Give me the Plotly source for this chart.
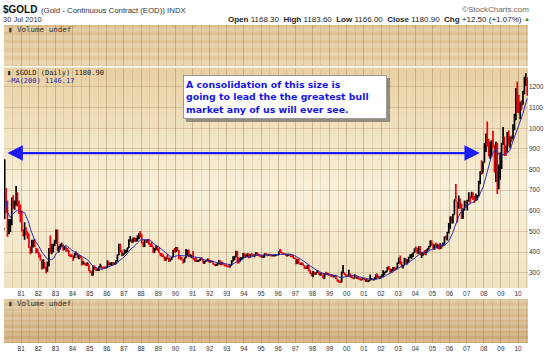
import plotly.graph_objects as go
import pandas as pd

# ---------------- data (monthly bars) ----------------
prev_close_1979 = 512

high = [
    850, 710, 650, 560, 560, 665, 675, 650, 720, 690, 650, 630,   # 1980
    600, 510, 545, 520, 500, 490, 425, 460, 460, 465, 420, 418,   # 1981
    400, 390, 360, 365, 352, 330, 355, 420, 480, 440, 440, 460,   # 1982
    510, 509, 430, 440, 445, 437, 430, 425, 420, 410, 390, 390,   # 1983
    384, 395, 403, 395, 386, 386, 373, 357, 350, 347, 351, 340,   # 1984
    311, 306, 335, 335, 325, 320, 330, 344, 330, 330, 330, 330,   # 1985
    360, 352, 348, 352, 352, 350, 360, 390, 440, 440, 410, 395,   # 1986
    414, 408, 421, 462, 478, 462, 471, 472, 467, 481, 493, 502,   # 1987
    486, 450, 458, 460, 462, 465, 444, 450, 428, 420, 432, 430,   # 1988
    420, 396, 396, 390, 378, 375, 390, 375, 368, 377, 410, 420,   # 1989
    425, 425, 410, 380, 376, 365, 372, 415, 410, 412, 390, 387,   # 1990
    405, 370, 375, 363, 363, 370, 375, 365, 358, 362, 368, 367,   # 1991
    360, 360, 355, 345, 342, 347, 362, 360, 352, 350, 340, 340,   # 1992
    335, 335, 340, 360, 380, 380, 406, 405, 370, 375, 375, 395,   # 1993
    395, 388, 393, 392, 390, 395, 390, 390, 400, 398, 392, 386,   # 1994
    385, 385, 393, 396, 390, 392, 390, 390, 387, 388, 390, 390,   # 1995
    405, 415, 402, 397, 395, 390, 390, 390, 390, 385, 386, 373,   # 1996
    370, 365, 366, 348, 350, 346, 335, 330, 338, 335, 313, 298,   # 1997
    308, 302, 302, 315, 305, 298, 298, 292, 298, 305, 300, 298,   # 1998
    292, 290, 290, 288, 288, 268, 266, 261, 306, 338, 300, 292,   # 1999
    292, 315, 296, 290, 278, 292, 289, 280, 276, 274, 270, 275,   # 2000
    272, 268, 268, 265, 292, 275, 271, 278, 293, 293, 285, 282,   # 2001
    291, 312, 305, 310, 328, 332, 322, 318, 328, 325, 325, 349,   # 2002
    372, 384, 355, 340, 372, 370, 365, 378, 390, 392, 398, 418,   # 2003
    427, 420, 428, 430, 400, 400, 410, 410, 418, 430, 456, 457,   # 2004
    443, 437, 446, 437, 434, 443, 434, 447, 476, 480, 497, 541,   # 2005
    573, 574, 586, 654, 730, 644, 674, 660, 635, 612, 649, 648,   # 2006
    652, 690, 672, 692, 690, 672, 683, 677, 745, 792, 845, 838,   # 2007
    928, 975, 1033, 948, 935, 942, 988, 918, 935, 930, 825, 882,  # 2008
    930, 1006, 960, 916, 982, 989, 960, 965, 1020, 1070, 1195, 1227,  # 2009
    1162, 1128, 1136, 1180, 1249, 1266, 1247,                     # 2010
]

low = [
    560, 590, 474, 487, 496, 530, 610, 605, 625, 620, 585, 545,   # 1980
    500, 475, 460, 480, 465, 420, 390, 395, 425, 425, 393, 395,   # 1981
    373, 359, 316, 320, 321, 297, 305, 330, 395, 390, 398, 430,   # 1982
    440, 404, 398, 412, 426, 406, 410, 402, 402, 380, 375, 376,   # 1983
    357, 370, 385, 370, 365, 370, 335, 340, 336, 333, 337, 308,   # 1984
    298, 285, 286, 315, 310, 308, 308, 325, 315, 320, 320, 320,   # 1985
    326, 336, 335, 334, 336, 337, 341, 354, 385, 400, 380, 382,   # 1986
    388, 393, 400, 420, 450, 444, 446, 450, 451, 451, 462, 470,   # 1987
    440, 425, 425, 445, 445, 435, 425, 425, 395, 398, 410, 405,   # 1988
    395, 380, 377, 375, 358, 358, 365, 352, 355, 362, 375, 400,   # 1989
    400, 405, 365, 365, 360, 345, 350, 370, 380, 375, 375, 370,   # 1990
    365, 355, 352, 352, 353, 358, 360, 345, 344, 354, 355, 350,   # 1991
    350, 350, 340, 335, 333, 335, 342, 335, 338, 340, 330, 330,   # 1992
    326, 326, 327, 336, 355, 360, 375, 345, 345, 355, 360, 368,   # 1993
    375, 375, 375, 370, 372, 380, 380, 375, 385, 384, 380, 375,   # 1994
    372, 372, 375, 385, 380, 384, 381, 380, 381, 380, 382, 384,   # 1995
    386, 395, 392, 390, 389, 381, 380, 385, 378, 377, 370, 366,   # 1996
    341, 341, 345, 337, 338, 334, 318, 318, 318, 306, 294, 283,   # 1997
    278, 290, 290, 300, 292, 285, 288, 273, 272, 288, 290, 285,   # 1998
    284, 282, 278, 278, 268, 258, 252, 252, 254, 296, 288, 280,   # 1999
    281, 285, 278, 274, 271, 272, 275, 270, 266, 264, 264, 268,   # 2000
    262, 255, 256, 255, 263, 265, 264, 265, 270, 275, 272, 271,   # 2001
    276, 280, 288, 300, 306, 314, 300, 300, 310, 310, 313, 318,   # 2002
    345, 340, 325, 320, 337, 343, 340, 350, 370, 367, 376, 397,   # 2003
    400, 390, 392, 386, 371, 382, 386, 385, 398, 410, 424, 430,   # 2004
    415, 411, 423, 418, 414, 415, 416, 428, 433, 461, 456, 490,   # 2005
    513, 538, 538, 582, 647, 543, 610, 611, 560, 561, 601, 614,   # 2006
    603, 645, 635, 662, 652, 639, 648, 651, 671, 729, 775, 785,   # 2007
    834, 885, 910, 865, 851, 862, 905, 786, 740, 681, 705, 750,   # 2008
    803, 920, 866, 865, 883, 915, 904, 932, 947, 990, 1040, 1075,  # 2009
    1073, 1044, 1087, 1114, 1165, 1206, 1157,                     # 2010
]

close = [
    653, 637, 494, 518, 535, 653, 614, 631, 666, 629, 619, 589,   # 1980
    506, 489, 514, 483, 477, 424, 406, 425, 428, 427, 414, 400,   # 1981
    384, 363, 320, 360, 323, 314, 342, 411, 397, 418, 433, 448,   # 1982
    481, 408, 415, 434, 437, 413, 423, 414, 405, 384, 382, 382,   # 1983
    374, 394, 394, 374, 382, 373, 346, 348, 344, 336, 340, 309,   # 1984
    306, 288, 328, 321, 315, 317, 328, 333, 326, 325, 325, 326,   # 1985
    351, 339, 345, 348, 343, 345, 357, 386, 423, 402, 385, 391,   # 1986
    406, 407, 420, 455, 458, 448, 462, 454, 460, 469, 490, 484,   # 1987
    458, 427, 456, 449, 454, 437, 436, 428, 399, 412, 422, 410,   # 1988
    395, 387, 383, 377, 362, 373, 368, 359, 366, 376, 408, 401,   # 1989
    415, 407, 368, 367, 363, 352, 372, 387, 408, 380, 383, 386,   # 1990
    367, 363, 356, 357, 361, 367, 363, 347, 355, 358, 366, 353,   # 1991
    354, 353, 341, 336, 337, 344, 357, 340, 349, 340, 334, 333,   # 1992
    330, 327, 337, 355, 376, 378, 402, 372, 355, 368, 370, 391,   # 1993
    377, 382, 392, 376, 387, 385, 383, 386, 395, 389, 383, 383,   # 1994
    375, 376, 392, 390, 385, 387, 383, 382, 383, 383, 387, 387,   # 1995
    405, 401, 396, 392, 390, 382, 385, 387, 379, 379, 371, 369,   # 1996
    345, 364, 348, 341, 345, 335, 326, 326, 332, 311, 297, 290,   # 1997
    302, 297, 301, 308, 293, 296, 288, 273, 294, 292, 294, 288,   # 1998
    285, 287, 280, 286, 273, 261, 255, 254, 300, 300, 292, 289,   # 1999
    284, 294, 279, 275, 273, 288, 276, 277, 273, 265, 270, 273,   # 2000
    266, 267, 258, 264, 267, 270, 265, 273, 293, 279, 275, 279,   # 2001
    282, 297, 302, 308, 326, 318, 304, 312, 324, 316, 318, 347,   # 2002
    368, 348, 334, 336, 361, 346, 354, 375, 384, 386, 398, 417,   # 2003
    402, 397, 424, 388, 393, 395, 391, 408, 416, 428, 453, 438,   # 2004
    422, 435, 427, 436, 417, 437, 430, 434, 473, 470, 495, 513,   # 2005
    569, 556, 582, 654, 643, 614, 633, 623, 599, 604, 646, 632,   # 2006
    650, 665, 662, 677, 659, 650, 665, 673, 743, 789, 783, 834,   # 2007
    923, 971, 933, 865, 887, 930, 918, 833, 884, 718, 814, 880,   # 2008
    927, 942, 916, 890, 978, 930, 954, 953, 1001, 1040, 1180, 1096,  # 2009
    1083, 1118, 1113, 1179, 1212, 1244, 1181,                     # 2010
]

year_tick_dates = [f"{y}-01-01" for y in range(1981, 2011)]
year_tick_labels = [f"{y % 100:02d}" for y in range(1981, 2011)]
price_ticks = [300, 400, 500, 600, 700, 800, 900, 1000, 1100, 1200]

ma_window = 10          # ~200 trading days on monthly bars
arrow_level = 880
arrow_left_date = "1980-02-12"
arrow_right_date = "2007-10-08"

header_right = ("<b>Open</b> 1168.30  <b>High</b> 1183.60  <b>Low</b> 1166.00  "
                "<b>Close</b> 1180.90  <b>Chg</b> +12.50 (+1.07%)")
callout_text = ("<b>A consolidation of this size is<br>"
                "going to lead the the greatest bull<br>"
                "market any of us will ever see.</b>")

# ---------------- layout geometry ----------------
W, H = 550, 355
ML, MR, MT, MB = 4, 22, 25, 12
PW, PH = W - ML - MR, H - MT - MB


def fx(p):
    return (p - ML) / PW


def fy(p):
    return (H - MB - p) / PH


dates = pd.date_range("1980-01-01", periods=len(close), freq="MS") + pd.Timedelta(days=14)
open_ = [prev_close_1979] + close[:-1]
ma = pd.Series(close).rolling(ma_window, min_periods=1).mean()

x_range = ["1980-01-01", "2010-07-31"]

fig = go.Figure()
fig.add_trace(go.Ohlc(
    x=dates, open=open_, high=high, low=low, close=close,
    increasing=dict(line=dict(color="#000000", width=1.7)),
    decreasing=dict(line=dict(color="#e8000b", width=1.7)),
    tickwidth=0.5, xaxis="x", yaxis="y", showlegend=False, hoverinfo="skip"))
fig.add_trace(go.Scatter(
    x=dates, y=ma, mode="lines", line=dict(color="#2b2bb0", width=1),
    xaxis="x", yaxis="y", showlegend=False, hoverinfo="skip"))
for xa, ya in (("x2", "y2"), ("x3", "y3")):
    fig.add_trace(go.Scatter(x=x_range, y=[0.5, 0.5], mode="markers",
                             marker=dict(opacity=0), xaxis=xa, yaxis=ya,
                             showlegend=False, hoverinfo="skip"))

grid = "rgba(150,120,75,0.28)"
minor_grid = "rgba(150,120,75,0.18)"
tickfont = dict(family="Liberation Sans, Arial, sans-serif", size=6.5, color="#333333")

xbase = dict(type="date", range=x_range, showgrid=True, gridcolor=grid, gridwidth=1,
             tickmode="array", tickvals=year_tick_dates, ticktext=year_tick_labels,
             tickfont=tickfont, ticks="", zeroline=False, showline=False,
             minor=dict(dtick="M6", tick0="1980-07-01", showgrid=True,
                        gridcolor=minor_grid, ticks=""),
             fixedrange=True)

fig.update_layout(
    width=W, height=H, margin=dict(l=ML, r=MR, t=MT, b=MB),
    paper_bgcolor="white", plot_bgcolor="rgba(0,0,0,0)",
    showlegend=False,
    xaxis=dict(xbase, domain=[0, 1], anchor="y", showticklabels=True,
               rangeslider=dict(visible=False)),
    xaxis2=dict(xbase, domain=[0, 1], anchor="y2", matches="x", showticklabels=False),
    xaxis3=dict(xbase, domain=[0, 1], anchor="y3", matches="x", showticklabels=True),
    yaxis=dict(domain=[fy(288), fy(68)], range=[226, 1292], side="right",
               tickmode="array", tickvals=price_ticks, tickfont=tickfont,
               showgrid=True, gridcolor=grid, zeroline=False, ticks="", fixedrange=True),
    yaxis2=dict(domain=[fy(66), 1], range=[0, 1], showticklabels=False,
                showgrid=False, zeroline=False, fixedrange=True),
    yaxis3=dict(domain=[0, fy(299)], range=[0, 1], showticklabels=False,
                showgrid=False, zeroline=False, fixedrange=True),
)


def lerp_color(stops, t):
    for (t0, c0), (t1, c1) in zip(stops[:-1], stops[1:]):
        if t0 <= t <= t1:
            f = (t - t0) / (t1 - t0) if t1 > t0 else 0
            c = [round(a + (b - a) * f) for a, b in zip(c0, c1)]
            return f"rgb({c[0]},{c[1]},{c[2]})"
    c = stops[-1][1]
    return f"rgb({c[0]},{c[1]},{c[2]})"


shapes = []


def add_gradient(xref, yref, stops, n=36):
    for i in range(n):
        y0, y1 = i / n, (i + 1) / n
        t = 1 - (i + 0.5) / n   # 0 = top, 1 = bottom
        shapes.append(dict(type="rect", xref=xref, yref=yref, x0=0, x1=1,
                           y0=y0, y1=y1 + 0.002, line=dict(width=0),
                           fillcolor=lerp_color(stops, t), layer="below"))


add_gradient("x2 domain", "y2 domain", [(0, (220, 190, 142)), (1, (229, 205, 162))])
add_gradient("x domain", "y domain", [(0, (232, 208, 163)), (0.55, (248, 240, 218)),
                                      (1, (240, 226, 192))])
add_gradient("x3 domain", "y3 domain", [(0, (222, 196, 152)), (1, (205, 167, 118))])

# callout box geometry (pixels) and its drop shadow
BOX_X, BOX_Y, BOX_W, BOX_H = 183, 75, 204, 44
shapes.append(dict(type="rect", xref="paper", yref="paper",
                   x0=fx(BOX_X + 3), x1=fx(BOX_X + BOX_W + 3),
                   y0=fy(BOX_Y + BOX_H + 3), y1=fy(BOX_Y + 3),
                   fillcolor="rgba(90,90,90,0.6)", line=dict(width=0), layer="above"))
fig.update_layout(shapes=shapes)

ann = []


def text(x, y, s, size=7.5, color="#222222", family="Liberation Sans, Arial, sans-serif",
         xanchor="left"):
    ann.append(dict(xref="paper", yref="paper", x=fx(x), y=fy(y), text=s,
                    showarrow=False, xanchor=xanchor, yanchor="middle",
                    font=dict(size=size, color=color, family=family)))


text(1, 10, "<b>$GOLD</b>", size=10, color="#111111")
text(39, 10.5, "(Gold - Continuous Contract (EOD)) INDX", size=7.8, color="#333333")
text(1, 19.5, "30 Jul 2010", size=7.5, color="#333333")
text(524, 19.5, header_right, size=8, color="#222222", xanchor="right")
text(532, 19.5, "▲", size=6, color="#2e8b2e", xanchor="right")
text(531, 9.5, "©StockCharts.com", size=8, color="#666666", xanchor="right")

mono = "DejaVu Sans Mono, monospace"
text(6, 29.5, "▮ Volume undef", size=7.5, color="#333333", family=mono)
text(6, 303.5, "▮ Volume undef", size=7.5, color="#333333", family=mono)
text(5, 72.5, "▮ $GOLD (Daily) 1180.90", size=7, color="#222222", family=mono)
text(5, 80.5, "—MA(200) 1146.17", size=7, color="#2b2bb0", family=mono)

ann.append(dict(xref="paper", yref="paper", x=fx(BOX_X), y=fy(BOX_Y), xanchor="left",
                yanchor="top", text=callout_text, showarrow=False, align="left",
                valign="middle", width=BOX_W - 6, height=BOX_H - 6,
                font=dict(size=9.4, color="#1515e8", family="DejaVu Sans, Verdana, sans-serif"),
                bgcolor="white", bordercolor="#9a9a9a", borderwidth=1, borderpad=2))

ann.append(dict(xref="x", yref="y", x=arrow_right_date, y=arrow_level,
                axref="x", ayref="y", ax=arrow_left_date, ay=arrow_level,
                text="", showarrow=True, arrowside="end+start",
                arrowhead=2, startarrowhead=2, arrowsize=1.4, startarrowsize=1.4,
                arrowwidth=2.2, arrowcolor="#1a1aff", standoff=0, startstandoff=0))

fig.update_layout(annotations=ann)

fig.write_html("out.html", config={"displayModeBar": False},
               post_script="document.body.style.margin='0';")
